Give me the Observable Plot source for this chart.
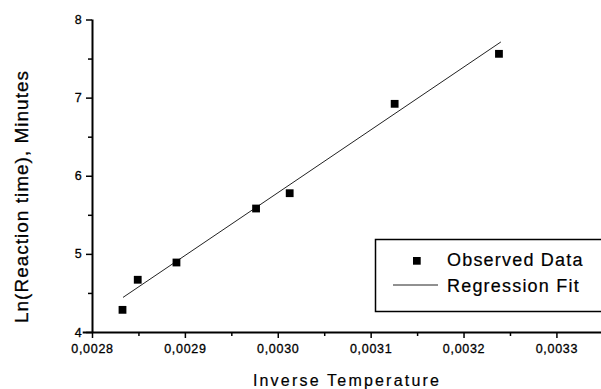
<!DOCTYPE html>
<html><head><meta charset="utf-8">
<script src="https://cdn.jsdelivr.net/npm/d3@7"></script>
<script src="https://cdn.jsdelivr.net/npm/@observablehq/plot@0.6"></script>
<style>
body{margin:0;background:#fff}
#chart svg{display:block}
</style>
</head><body><div id="chart"></div>
<script>
const invTemp = [0.0028323, 0.0028487, 0.0028904, 0.0029761, 0.0030123, 0.0031253, 0.0032376];
const lnTime  = [4.29, 4.675, 4.896, 5.587, 5.783, 6.927, 7.567];
// Regression fit end points
const fitX = [0.0028332, 0.0032393];
const fitY = [4.452, 7.716];
// Axis ticks
const xTicks = [0.0028, 0.0029, 0.0030, 0.0031, 0.0032, 0.0033];
const xMinor = [0.00285, 0.00295, 0.00305, 0.00315, 0.00325];
const yTicks = [4, 5, 6, 7, 8];
const yMinor = [4.5, 5.5, 6.5, 7.5];
const xTitle = "Inverse Temperature";
const yTitle = "Ln(Reaction time), Minutes";
const legendLabels = ["Observed Data", "Regression Fit"];

const points = invTemp.map((x, i) => ({x, y: lnTime[i]}));
const fit = fitX.map((x, i) => ({x, y: fitY[i]}));
const FONT = "'Liberation Sans', Arial, Helvetica, sans-serif";

const plot = Plot.plot({
  width: 601,
  height: 389,
  marginLeft: 92,
  marginRight: 0,
  marginTop: 19.5,
  marginBottom: 57,
  style: {fontFamily: FONT, fontSize: "12.5px", letterSpacing: "0.7px", background: "#fff", color: "#000", overflow: "visible"},
  x: {domain: [0.0028, 0.003348]},
  y: {domain: [4, 8]},
  marks: [
    Plot.axisX({ticks: xTicks, tickSize: 6, tickPadding: 6, strokeWidth: 1.5, label: null,
      tickFormat: d => d.toFixed(4).replace(".", ",")}),
    Plot.axisX({ticks: xMinor, tickSize: 4, strokeWidth: 1.5, label: null, tickFormat: () => ""}),
    Plot.axisY({ticks: yTicks, tickSize: 6, tickPadding: 4, strokeWidth: 1.5, label: null,
      tickFormat: d => String(d)}),
    Plot.axisY({ticks: yMinor, tickSize: 4, strokeWidth: 1.5, label: null, tickFormat: () => ""}),
    Plot.ruleX([xTicks[0]], {y1: yTicks[0], y2: yTicks[yTicks.length - 1], strokeWidth: 2, stroke: "#000"}),
    Plot.ruleY([yTicks[0]], {x1: 0.00279, x2: 0.003348, strokeWidth: 2, stroke: "#000"}),
    Plot.line(fit, {x: "x", y: "y", stroke: "#222", strokeWidth: 1}),
    Plot.dot(points, {x: "x", y: "y", symbol: "square", r: 4.4, fill: "#000", stroke: "none"})
  ]
});
document.getElementById("chart").appendChild(plot);

const svg = d3.select(plot);
// slightly heavier text, like the scanned original
svg.selectAll("g[aria-label$='tick label'] text").attr("stroke", "#000").attr("stroke-width", 0.3);

// Axis titles
svg.append("text")
  .attr("transform", "translate(28,196.5) rotate(-90)")
  .attr("text-anchor", "middle")
  .attr("font-family", FONT).attr("font-size", 19).attr("letter-spacing", "1px")
  .attr("fill", "#000").attr("stroke", "#000").attr("stroke-width", 0.3)
  .text(yTitle);
svg.append("text")
  .attr("x", 347).attr("y", 386)
  .attr("text-anchor", "middle")
  .attr("font-family", FONT).attr("font-size", 16).attr("letter-spacing", "2.2px")
  .attr("fill", "#000").attr("stroke", "#000").attr("stroke-width", 0.2)
  .text(xTitle);

// Legend
const lg = svg.append("g");
lg.append("rect").attr("x", 375.5).attr("y", 239.5).attr("width", 240).attr("height", 72)
  .attr("fill", "#fff").attr("stroke", "#000").attr("stroke-width", 1.5);
lg.append("rect").attr("x", 413).attr("y", 257).attr("width", 7.7).attr("height", 7.7).attr("fill", "#000");
lg.append("line").attr("x1", 393).attr("x2", 438).attr("y1", 285).attr("y2", 285)
  .attr("stroke", "#222").attr("stroke-width", 1);
lg.selectAll("text.lab").data(legendLabels).join("text")
  .attr("class", "lab")
  .attr("x", 447).attr("y", (d, i) => i === 0 ? 265.5 : 292)
  .attr("text-anchor", "start")
  .attr("font-family", FONT).attr("font-size", 18).attr("letter-spacing", "1.2px")
  .attr("fill", "#000").attr("stroke", "#000").attr("stroke-width", 0.2)
  .text(d => d);
</script>
</body></html>
